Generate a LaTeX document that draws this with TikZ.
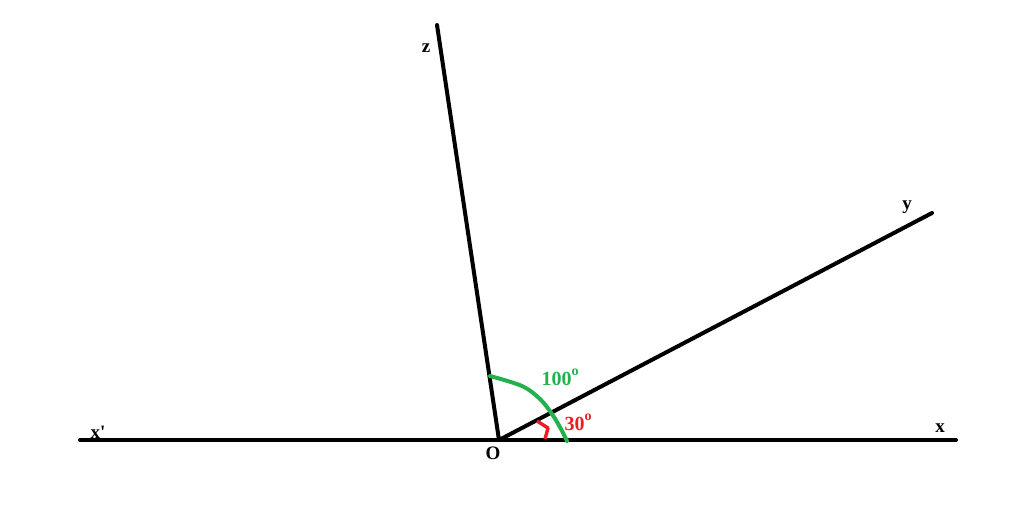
\documentclass[tikz,border=0pt]{standalone}
\usepackage{fontspec}
\setmainfont{Liberation Serif}
\newcommand{\dego}{\raisebox{0.5em}{\fontsize{14}{14}\selectfont o}}
\begin{document}
\begin{tikzpicture}[x=1pt,y=-1pt,
  ray/.style={line width=4pt,line cap=round},
  lbl/.style={font=\fontsize{19}{19}\selectfont\bfseries,inner sep=0pt},
  ang/.style={font=\fontsize{20}{20}\selectfont\bfseries,inner sep=0pt}]
\useasboundingbox[fill=white] (0,0) rectangle (1024,520);
\coordinate (O) at (499,440);
\coordinate (Xp) at (80,440);
\coordinate (X) at (956,440);
\coordinate (Y) at (932,213);
\coordinate (Z) at (437,25);
\draw[ray] (Xp) -- (X);
\draw[ray] (O) -- (Y);
\draw[ray] (O) -- (Z);
\definecolor{grn}{RGB}{34,177,76}
\definecolor{rd}{RGB}{237,28,36}
\draw[grn,line width=4pt,line cap=round] plot[smooth,tension=0.55] coordinates {(490,376) (522,386) (540,399) (552,414) (561,429) (567,441)};
\draw[rd,line width=3.4pt,line join=round] (537,421) -- (548,428) -- (545,439);
\node[lbl] (nO) at (493,453) {O};
\node[lbl] (nXp) at (98,432) {x\textquotesingle};
\node[lbl] (nX) at (940,428) {x};
\node[lbl] (nY) at (907,207) {y};
\node[lbl] (nZ) at (426,48) {z};
\node[ang,text=grn] (a100) at (560,377) {100\dego};
\node[ang,text=rd] (a30) at (578,422) {30\dego};
\end{tikzpicture}
\end{document}
